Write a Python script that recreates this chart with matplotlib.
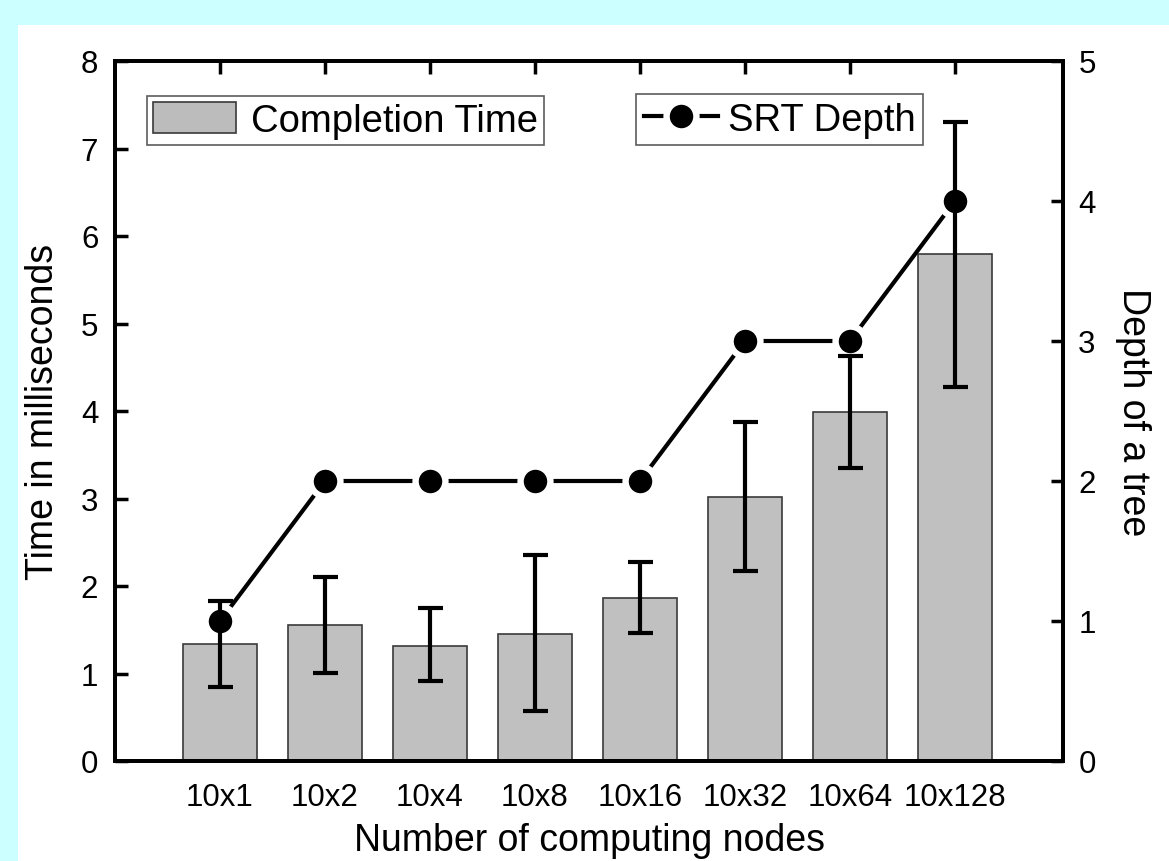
import matplotlib
matplotlib.use("Agg")
import matplotlib.pyplot as plt
from matplotlib.patches import Rectangle, Patch
from matplotlib.lines import Line2D
import numpy as np

categories = ["10x1", "10x2", "10x4", "10x8", "10x16", "10x32", "10x64", "10x128"]
completion_time = [1.34, 1.55, 1.32, 1.45, 1.86, 3.02, 3.99, 5.79]
err_upper = [1.83, 2.10, 1.75, 2.35, 2.27, 3.88, 4.63, 7.30]
err_lower = [0.85, 1.01, 0.92, 0.57, 1.46, 2.17, 3.35, 4.27]
srt_depth = [1, 2, 2, 2, 2, 3, 3, 4]

plt.rcParams['font.family'] = ['Liberation Sans', 'DejaVu Sans']

W, H = 1169, 862
fig = plt.figure(figsize=(W / 100, H / 100), dpi=100)
fig.patch.set_facecolor('#ccffff')
fig.add_artist(Rectangle((18 / W, 0), 1 - 18 / W, (H - 26) / H,
                         transform=fig.transFigure, facecolor='white',
                         edgecolor='none', zorder=0))

pos = [115 / W, (H - 762) / H, (1063 - 115) / W, (762 - 62) / H]
ax1 = fig.add_axes(pos)
x = np.arange(len(categories))

ax1.bar(x, completion_time, width=0.71, color='#c0c0c0', edgecolor='#3a3a3a',
        linewidth=1.2, zorder=2)
ax1.set_xlim(-1, 8.03)
ax1.set_ylim(0, 8)
ax1.set_yticks(range(0, 9))
ax1.set_xticks(x)
ax1.set_xticklabels(categories)

ax2 = ax1.twinx()
ax2.plot(x, srt_depth, color='black', lw=3.0, marker='o', markersize=21.5,
         markerfacecolor='black', markeredgecolor='white', markeredgewidth=4.6,
         zorder=3)
ax2.set_ylim(0, 5)
ax2.set_yticks(range(0, 6))

ax3 = ax1.twinx()
ax3.set_ylim(0, 8)
ax3.axis('off')
yerr = [np.array(completion_time) - np.array(err_lower),
        np.array(err_upper) - np.array(completion_time)]
ax3.errorbar(x, completion_time, yerr=yerr, fmt='none', ecolor='black',
             elinewidth=3.0, capsize=9, capthick=3.0)
ax3.set_xlim(ax1.get_xlim())

for a in (ax1, ax2):
    for s in a.spines.values():
        s.set_linewidth(2.8)
ax1.tick_params(axis='x', direction='in', length=9, width=2.5, top=True,
                labelsize=22.5, pad=15)
ax1.tick_params(axis='y', direction='in', length=9, width=2.5,
                labelsize=22.5, pad=12)
ax2.tick_params(axis='y', direction='in', length=9, width=2.5,
                labelsize=22.5, pad=11)

ax1.set_ylabel("Time in milliseconds", fontsize=27, labelpad=14)
ax2.set_ylabel("Depth of a tree", fontsize=27, rotation=-90, labelpad=40)
fig.text((115 + 1063) / 2 / W, 3 / H, "Number of computing nodes",
         fontsize=27, ha='center', va='bottom')

h1 = Patch(facecolor='#bcbcbc', edgecolor='#3a3a3a', linewidth=1.2)
leg1 = fig.legend([h1], ["Completion Time"], loc='upper left',
                  bbox_to_anchor=(147 / W, 1 - 97 / H), fontsize=27.5,
                  frameon=True, fancybox=False, handlelength=2.15,
                  handleheight=0.85, borderpad=0.17, handletextpad=0.4,
                  borderaxespad=0)
h2 = Line2D([], [], color='black', lw=3.0, marker='o', markersize=21.5,
            markerfacecolor='black', markeredgecolor='white',
            markeredgewidth=4.6)
leg2 = fig.legend([h2], ["SRT Depth"], loc='upper left',
                  bbox_to_anchor=(636 / W, 1 - 95 / H), fontsize=27.5,
                  frameon=True, fancybox=False, handlelength=1.95,
                  borderpad=0.2, handletextpad=0.25, borderaxespad=0)
for lg in (leg1, leg2):
    lg.get_frame().set_edgecolor('#333333')
    lg.get_frame().set_linewidth(1.2)

fig.savefig("out.png", dpi=100)
